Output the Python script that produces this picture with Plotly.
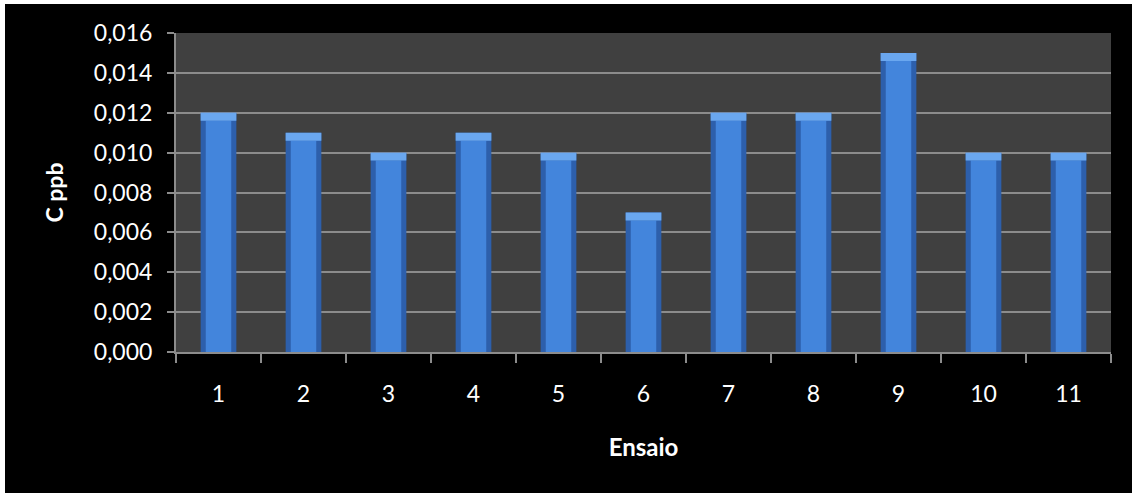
import plotly.graph_objects as go

categories = ["1", "2", "3", "4", "5", "6", "7", "8", "9", "10", "11"]
values = [0.012, 0.011, 0.010, 0.011, 0.010, 0.007, 0.012, 0.012, 0.015, 0.010, 0.010]
y_title = "C ppb"
x_title = "Ensaio"

W, H = 1132, 493
ML, MR, MT, MB = 176, 21, 33, 141
pw, ph = W - ML - MR, H - MT - MB

bevel = 0.0004
font = "Lato, 'Open Sans', sans-serif"

fig = go.Figure()
fig.add_trace(go.Bar(x=categories, y=values, width=0.42,
                     marker=dict(color="#2d5fab", line=dict(width=0)), hoverinfo="skip"))
fig.add_trace(go.Bar(x=categories, y=[v - bevel for v in values], width=0.30,
                     marker=dict(color="#4385dc", line=dict(width=0)), hoverinfo="skip"))
fig.add_trace(go.Bar(x=categories, y=[bevel] * len(values), base=[v - bevel for v in values],
                     width=0.42, marker=dict(color="#6aa7ef", line=dict(width=0)), hoverinfo="skip"))

# thin white edge at left and top of the black chart area
fig.add_shape(type="rect", xref="paper", yref="paper", layer="below",
              x0=-ML / pw - 0.01, x1=(5 - ML) / pw,
              y0=-MB / ph - 0.02, y1=(ph + MT) / ph + 0.02,
              fillcolor="white", line=dict(width=0))
fig.add_shape(type="rect", xref="paper", yref="paper", layer="below",
              x0=-ML / pw - 0.01, x1=(W - ML) / pw + 0.01,
              y0=(ph + MT - 4) / ph, y1=(ph + MT) / ph + 0.02,
              fillcolor="white", line=dict(width=0))

fig.update_layout(
    width=W, height=H,
    margin=dict(l=ML, r=MR, t=MT, b=MB),
    paper_bgcolor="black", plot_bgcolor="#404040",
    barmode="overlay", showlegend=False,
    separators=",.",
    font=dict(family=font, color="white", size=23),
)
fig.update_xaxes(type="category", tickson="boundaries", ticks="outside", ticklen=9,
                 tickcolor="#8c8c8c", tickwidth=2, showline=True, linecolor="#8c8c8c",
                 linewidth=2, showgrid=False, ticklabelstandoff=20,
                 tickfont=dict(size=23, color="white"),
                 title=dict(text="<b>" + x_title + "</b>", font=dict(size=24, color="white"), standoff=34))
fig.update_yaxes(range=[0, 0.016], dtick=0.002, tickformat=".3f", ticks="outside", ticklen=7,
                 tickcolor="#8c8c8c", tickwidth=2, showline=True, linecolor="#8c8c8c", linewidth=2,
                 showgrid=True, gridcolor="#8c8c8c", gridwidth=2, zeroline=False,
                 ticklabelstandoff=10,
                 tickfont=dict(size=23, color="white"),
                 title=dict(text="<b>" + y_title + "</b>", font=dict(size=23, color="white"), standoff=24))

fig.write_html("out.html")
